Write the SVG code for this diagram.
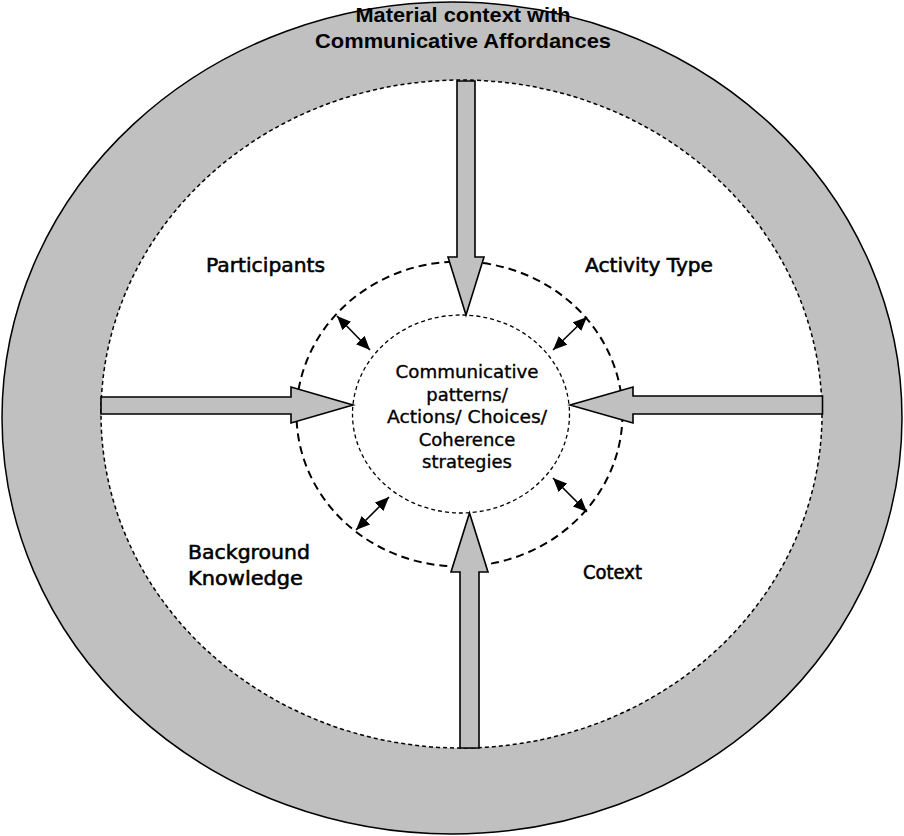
<svg xmlns="http://www.w3.org/2000/svg" width="904" height="836" viewBox="0 0 904 836">
  <defs>
    <style>
      .ring { fill: #c0c0c0; stroke: #000; stroke-width: 1.5; }
      .field { fill: #fff; stroke: #000; stroke-width: 1.5; stroke-dasharray: 4 3; }
      .mid { fill: none; stroke: #000; stroke-width: 2; stroke-dasharray: 8 5; }
      .core { fill: none; stroke: #000; stroke-width: 1.3; stroke-dasharray: 4 3; }
      .big { fill: #c0c0c0; stroke: #000; stroke-width: 1.6; stroke-linejoin: miter; }
      .dbl { stroke: #000; stroke-width: 1.6; fill: none; marker-start: url(#head); marker-end: url(#head); }
      .title { font-family: "Liberation Sans", Arial, sans-serif; font-size: 21px; font-weight: bold; fill: #000; text-anchor: middle; }
      .lbl { font-family: "DejaVu Sans", sans-serif; font-size: 19px; fill: #000; stroke: #000; stroke-width: 0.55; }
      .ctr { font-family: "DejaVu Sans", sans-serif; font-size: 18px; fill: #000; stroke: #000; stroke-width: 0.35; text-anchor: middle; }
    </style>
    <marker id="head" viewBox="0 0 14 12" refX="14" refY="6" markerWidth="14" markerHeight="12" markerUnits="userSpaceOnUse" orient="auto-start-reverse">
      <path d="M0,0 L14,6 L0,12 z" fill="#000"/>
    </marker>
  </defs>

  <g id="material-context">
    <ellipse class="ring" cx="452" cy="418" rx="450" ry="416"/>
    <text class="title" x="463" y="22" textLength="215" lengthAdjust="spacingAndGlyphs">Material context with</text>
    <text class="title" x="463" y="48" textLength="296" lengthAdjust="spacingAndGlyphs">Communicative Affordances</text>
  </g>

  <g id="context-field">
    <ellipse class="field" cx="461.5" cy="414" rx="360.5" ry="334"/>
  </g>

  <g id="participants">
    <text class="lbl" x="206" y="272" textLength="119" lengthAdjust="spacingAndGlyphs">Participants</text>
  </g>
  <g id="activity-type">
    <text class="lbl" x="585" y="272" textLength="128" lengthAdjust="spacingAndGlyphs">Activity Type</text>
  </g>
  <g id="background-knowledge">
    <text class="lbl" x="188" y="559" textLength="122" lengthAdjust="spacingAndGlyphs">Background</text>
    <text class="lbl" x="188" y="585" textLength="115" lengthAdjust="spacingAndGlyphs">Knowledge</text>
  </g>
  <g id="cotext">
    <text class="lbl" x="583" y="579" textLength="59" lengthAdjust="spacingAndGlyphs">Cotext</text>
  </g>

  <g id="interaction-ring">
    <ellipse class="mid" cx="459.5" cy="414" rx="163" ry="152.5"/>
  </g>

  <g id="communicative-core">
    <ellipse class="core" cx="461" cy="414" rx="108.5" ry="99"/>
    <text class="ctr" x="467" y="378" textLength="143" lengthAdjust="spacingAndGlyphs">Communicative</text>
    <text class="ctr" x="467" y="401">patterns/</text>
    <text class="ctr" x="467" y="423" textLength="160" lengthAdjust="spacingAndGlyphs">Actions/ Choices/</text>
    <text class="ctr" x="467" y="446">Coherence</text>
    <text class="ctr" x="467" y="468">strategies</text>
  </g>

  <g id="connectors">
    <polygon class="big" points="457,81 475,81 475,257 484,257 466,315 448,257 457,257"/>
    <polygon class="big" points="460,748 479,748 479,572 488,572 469.5,513 451,572 460,572"/>
    <polygon class="big" points="101,397 291,397 291,387 353,405 291,423 291,414 101,414"/>
    <polygon class="big" points="822.5,396 633,396 633,387 570,405 633,423 633,414 822.5,414"/>
    <line class="dbl" x1="337" y1="316" x2="370" y2="350"/>
    <line class="dbl" x1="587" y1="317" x2="553" y2="350"/>
    <line class="dbl" x1="356" y1="530" x2="389" y2="497"/>
    <line class="dbl" x1="553" y1="478" x2="587" y2="512"/>
  </g>
</svg>
